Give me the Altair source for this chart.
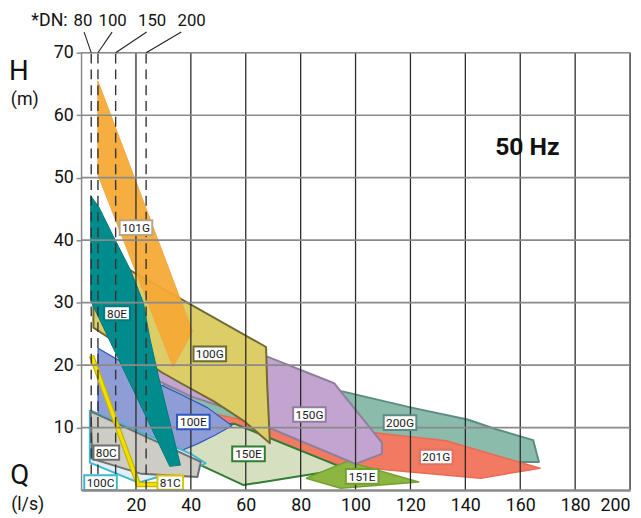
import altair as alt
import pandas as pd

# ---------------- data ----------------
# pump performance fields: Q (l/s) and H (m) outline vertices
Q_200G = [30, 95.2, 120.4, 140.8, 151.5, 164.7, 166.8, 130, 100, 60, 30]
H_200G = [17.8, 15.8, 13.2, 11.3, 9.7, 8.0, 4.5, 4.5, 5.0, 9.0, 12.0]
Q_201G = [40, 70, 106, 133, 167.2, 145.6, 112, 95, 60, 40]
H_201G = [13.0, 10.2, 9.2, 7.9, 3.5, 1.9, 3.2, 4.0, 8.5, 11.0]
Q_150E = [25, 56, 96.4, 59.2, 41, 25]
H_150E = [10.0, 10.6, 3.4, 0.8, 4.5, 6.0]
Q_151E = [82, 97, 123, 94.6]
H_151E = [1.9, 4.6, 1.3, 0.3]
Q_150G = [22, 67.6, 92.2, 109.6, 109.6, 100, 70, 54.4, 40, 28]
H_150G = [20.5, 21.4, 17.1, 7.6, 5.8, 4.2, 9.7, 12.9, 15.0, 17.5]
Q_100G = [4.5, 67.4, 67.8, 68.8, 59.2, 48.4, 36.4, 29.2, 4.5]
H_100G = [38.5, 22.9, 17.0, 7.5, 11.1, 14.2, 17.1, 18.9, 26.0]
Q_100E = [6.2, 29.2, 36.4, 46, 55, 48.4, 42.4, 36.4, 25, 6.2]
H_100E = [22.7, 16.8, 15.3, 13.2, 10.3, 8.7, 7.4, 6.3, 5.5, 8.0]
Q_101G = [6.1, 6.1, 33.5, 40.6]
H_101G = [65.5, 50.5, 19.7, 25.4]
Q_100C = [3.2, 40, 45.4, 42, 28, 20.9, 3.2]
H_100C = [12.8, 5.8, 4.3, 3.6, 2.1, 1.2, 4.4]
Q_80C = [3.5, 43.6, 42.4, 22, 4.1]
H_80C = [12.6, 4.5, 2.1, 2.6, 5.0]
Q_80E = [3.5, 6.5, 11.3, 17.9, 22.7, 25.1, 28.1, 36.2, 32.3, 3.5]
H_80E = [47.1, 45.3, 41.0, 35.3, 30.0, 24.2, 18.4, 4.0, 3.8, 30.3]
Q_81C = [3.8, 20.9, 28.0]
H_81C = [21.5, 0.9, 0.9]

# labels
lab_text = ["101G", "80E", "100G", "100E", "150G", "150E", "200G", "201G", "151E", "80C", "100C", "81C"]
lab_q = [20.0, 13.1, 46.9, 40.9, 83.2, 61.0, 116.2, 129.4, 102.4, 9.2, 7.1, 32.5]
lab_h = [42.0, 28.3, 21.8, 10.9, 12.1, 5.8, 10.8, 5.3, 2.2, 6.0, 1.2, 1.2]
lab_border = ["#b8a684", "#007a7a", "#6e6a32", "#2f57c0", "#8e7f9f", "#2e7d32",
              "#5c8c84", "#e07060", "#74a030", "#6f6f6f", "#3cb8d2", "#d8c400"]

# pipe sizes (DN) and their limit flows
dn_text = ["80", "100", "150", "200"]
dn_q = [3.7, 6.15, 12.6, 23.7]
dn_lead_q = [1.1, 11.3, 23.9, 36.5]
dn_label_px = [2, 32, 72, 112]

x_ticks = [20, 40, 60, 80, 100, 120, 140, 160, 180, 200]
y_ticks = [10, 20, 30, 40, 50, 60, 70]

# ---------------- chart ----------------
W, Hh = 556, 443
xsc = alt.Scale(domain=[0, 200], nice=False, zero=False)
ysc = alt.Scale(domain=[0, 70], nice=False, zero=False)
FONT = "Roboto"

xaxis = alt.Axis(values=x_ticks, title=None, grid=False, ticks=False, tickSize=0,
                 labelPadding=7, labelFontSize=18, labelFont=FONT, labelColor="#111111",
                 domainColor="#8a8a8a", domainWidth=2.5,
                 labelAlign={"condition": {"test": "datum.value == 200", "value": "right"}, "value": "center"},
                 zindex=1)
yaxis = alt.Axis(values=y_ticks, title=None, grid=False, ticks=True, tickSize=5,
                 tickColor="#8a8a8a", tickWidth=1.5, labelPadding=3,
                 labelFontSize=18, labelFont=FONT, labelColor="#111111",
                 domainColor="#8a8a8a", domainWidth=1.5, zindex=1)

def X(f):
    return alt.X(f, type="quantitative", scale=xsc, axis=xaxis)

def Y(f):
    return alt.Y(f, type="quantitative", scale=ysc, axis=yaxis)

polys = [
    ("200G", Q_200G, H_200G, "#8bbcab", "#5c8c84", 2.0, 1.0),
    ("201G", Q_201G, H_201G, "#f27a62", "#ea6a52", 1.5, 1.0),
    ("150E", Q_150E, H_150E, "#d6e0c0", "#2e7d32", 2.0, 1.0),
    ("151E", Q_151E, H_151E, "#8db542", "#74a030", 1.5, 1.0),
    ("150G", Q_150G, H_150G, "#c3a3cf", "#8e7f9f", 2.0, 1.0),
    ("100G", Q_100G, H_100G, "#dccd66", "#6e6a32", 2.0, 1.0),
    ("100E", Q_100E, H_100E, "#8e9dd6", "#2f57c0", 1.2, 1.0),
    ("101G", Q_101G, H_101G, "#f6a935", "#f0a843", 1.0, 0.94),
    ("100C", Q_100C, H_100C, "#e2eff3", "#3cb8d2", 2.0, 1.0),
    ("80C", Q_80C, H_80C, "#cdcdc6", "#6f6f6f", 2.0, 1.0),
    ("80E", Q_80E, H_80E, "#008c8c", "#007a7a", 1.0, 1.0),
]

layers = []
for name, qs, hs, fill, stroke, sw, fo in polys:
    df = pd.DataFrame({"q": qs + [qs[0]], "h": hs + [hs[0]], "i": list(range(len(qs) + 1))})
    layers.append(
        alt.Chart(df).mark_line(fill=fill, stroke=stroke, strokeWidth=sw, fillOpacity=fo,
                                strokeJoin="round", interpolate="linear")
        .encode(x=X("q"), y=Y("h"), order=alt.Order("i:Q"))
    )

# 81C thin band
df81 = pd.DataFrame({"q": Q_81C, "h": H_81C, "i": list(range(len(Q_81C)))})
layers.append(alt.Chart(df81).mark_line(stroke="#c8b400", strokeWidth=5.5, strokeJoin="miter")
              .encode(x=X("q"), y=Y("h"), order=alt.Order("i:Q")))
layers.append(alt.Chart(df81).mark_line(stroke="#f0e000", strokeWidth=3, strokeJoin="miter")
              .encode(x=X("q"), y=Y("h"), order=alt.Order("i:Q")))

# grid lines
vg = pd.DataFrame({"q": x_ticks})
layers.append(alt.Chart(vg).mark_rule(color="#2a2a2a", strokeWidth=1.3)
              .encode(x=X("q"), y=alt.datum(0, scale=ysc), y2=alt.datum(70)))
hg = pd.DataFrame({"h": y_ticks})
layers.append(alt.Chart(hg).mark_rule(color="#8a8a8a", strokeWidth=1.6)
              .encode(y=Y("h"), x=alt.datum(0, scale=xsc), x2=alt.datum(200)))

# DN dashed lines and leaders
dn = pd.DataFrame({"q": dn_q, "lq": dn_lead_q, "t": dn_text, "px": dn_label_px})
layers.append(alt.Chart(dn).mark_rule(color="#333333", strokeWidth=1.4, strokeDash=[10, 6])
              .encode(x=X("q"), y=alt.datum(0, scale=ysc), y2=alt.datum(70)))
layers.append(alt.Chart(dn).mark_rule(color="#222222", strokeWidth=1.1)
              .encode(x=X("q"), x2="lq:Q", y=alt.datum(70, scale=ysc), y2=alt.datum(73.3)))
layers.append(alt.Chart(dn).mark_text(fontSize=17, font=FONT, color="#111111", baseline="middle")
              .encode(x=alt.X("px:Q", scale=None), y=alt.value(-32), text="t:N"))

# label boxes
P4 = "M-1,-0.45H1V0.45H-1Z"
P3 = "M-1,-0.55H1V0.55H-1Z"
lab = pd.DataFrame({"q": lab_q, "h": lab_h, "t": lab_text, "b": lab_border,
                    "shp": [P4 if len(t) == 4 else P3 for t in lab_text],
                    "sz": [33 * 33 if len(t) == 4 else 26 * 26 for t in lab_text]})
layers.append(alt.Chart(lab).mark_point(filled=True, opacity=1, strokeWidth=2)
              .encode(x=X("q"), y=Y("h"), shape=alt.Shape("shp:N", scale=None),
                      size=alt.Size("sz:Q", scale=None), stroke=alt.Stroke("b:N", scale=None),
                      fill=alt.value("white")))
layers.append(alt.Chart(lab).mark_text(fontSize=12, font=FONT, color="#1a1a1a", baseline="middle", dy=0.5)
              .encode(x=X("q"), y=Y("h"), text="t:N"))

# free text
ann = pd.DataFrame({"t": ["H", "(m)", "Q", "(l/s)", "*DN:"],
                    "px": [-63, -57, -62, -54, -32],
                    "py": [20, 48, 429, 458, -32],
                    "fs": [28, 18, 28, 18, 18]})
layers.append(alt.Chart(ann).mark_text(font=FONT, color="#111111", baseline="middle")
              .encode(x=alt.X("px:Q", scale=None), y=alt.Y("py:Q", scale=None), text="t:N",
                      size=alt.Size("fs:Q", scale=None)))
hz = pd.DataFrame({"t": ["50 Hz"]})
layers.append(alt.Chart(hz).mark_text(font=FONT, fontSize=25, fontWeight="bold", color="#111111", baseline="middle")
              .encode(x=alt.value(452), y=alt.value(96), text="t:N"))

chart = alt.layer(*layers).properties(
    width=W, height=Hh,
    padding={"left": 74, "top": 42, "right": 3, "bottom": 25},
    autosize=alt.AutoSizeParams(type="none"),
).configure_view(stroke=None).configure(background="white")

chart.save("out.html", embed_options={"renderer": "svg", "actions": False})
